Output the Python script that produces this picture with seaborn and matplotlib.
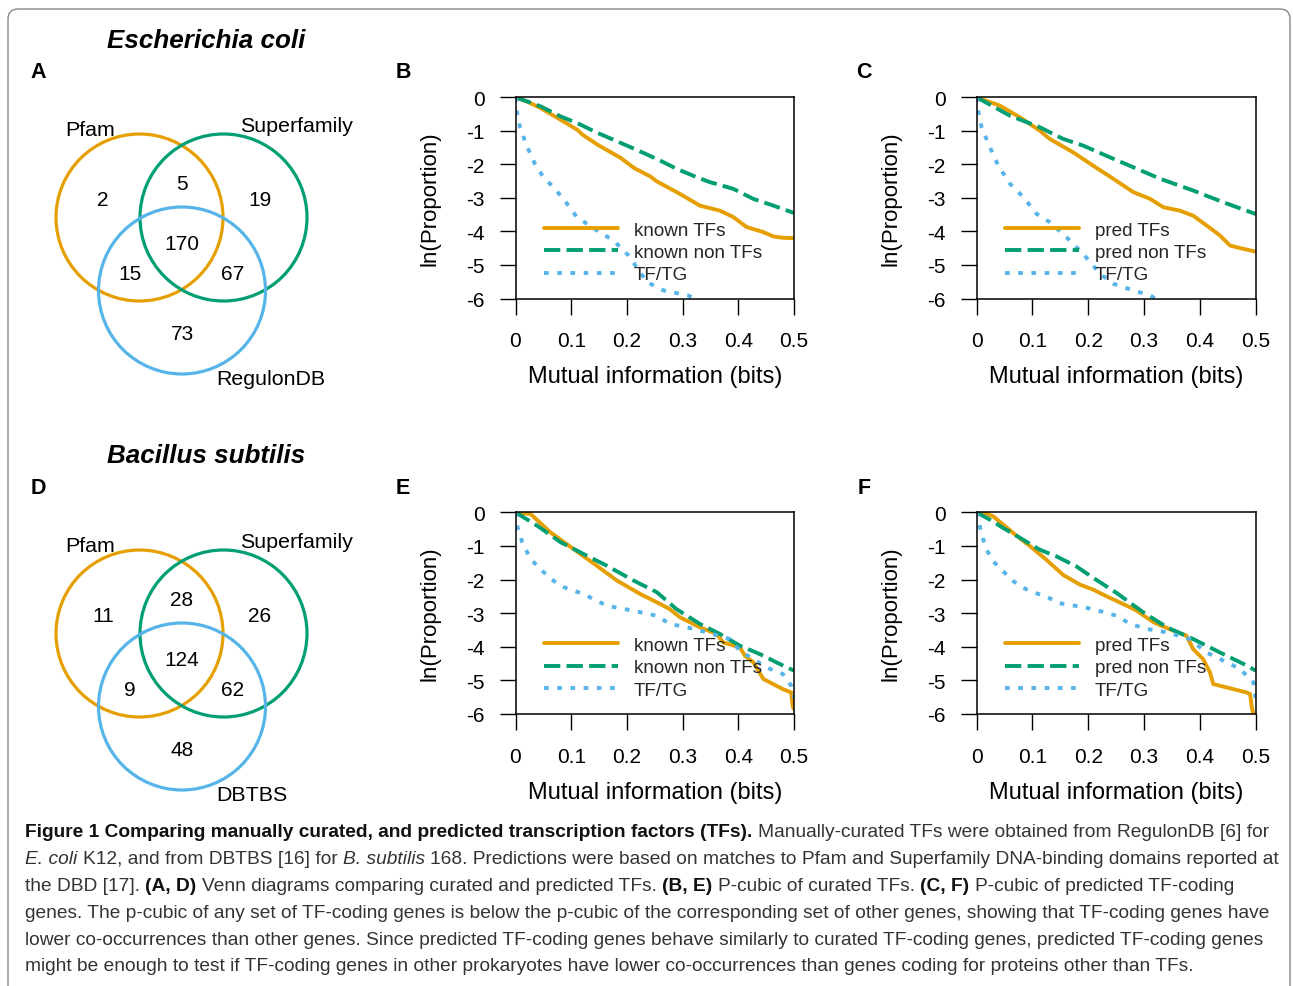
import matplotlib
matplotlib.use("Agg")
import numpy as np
import pandas as pd
import seaborn as sns
import matplotlib.pyplot as plt
from matplotlib.patches import Circle, FancyBboxPatch
from matplotlib import font_manager

# ---------------- data ----------------
# Venn counts: [set1 only, set1&set2, set2 only, all three, set1&set3, set2&set3, set3 only]
ecoli_counts = [2, 5, 19, 170, 15, 67, 73]
bsub_counts = [11, 28, 26, 124, 9, 62, 48]
ecoli_sets = ["Pfam", "Superfamily", "RegulonDB"]
bsub_sets = ["Pfam", "Superfamily", "DBTBS"]

# Panel B (E. coli, curated)
b_tf_x = [0, 0.02, 0.045, 0.081, 0.111, 0.12, 0.147, 0.189, 0.213, 0.242, 0.254, 0.295, 0.331, 0.367, 0.391, 0.415, 0.445, 0.463, 0.48, 0.5]
b_tf_y = [0, -0.12, -0.32, -0.67, -0.97, -1.11, -1.41, -1.81, -2.11, -2.36, -2.51, -2.88, -3.23, -3.38, -3.57, -3.87, -4.02, -4.15, -4.19, -4.2]
b_non_x = [0, 0.022, 0.045, 0.081, 0.111, 0.147, 0.189, 0.23, 0.26, 0.289, 0.325, 0.349, 0.391, 0.427, 0.463, 0.5]
b_non_y = [0, -0.13, -0.27, -0.57, -0.77, -1.06, -1.36, -1.66, -1.89, -2.13, -2.38, -2.53, -2.73, -3.03, -3.23, -3.45]
b_tg_x = [0, 0.002, 0.008, 0.02, 0.035, 0.05, 0.068, 0.086, 0.11, 0.146, 0.176, 0.203, 0.236, 0.266, 0.31, 0.32]
b_tg_y = [0, -0.4, -0.89, -1.44, -1.99, -2.38, -2.68, -3.03, -3.57, -3.97, -4.27, -4.72, -5.51, -5.76, -5.91, -6.0]

# Panel C (E. coli, predicted)
c_tf_x = [0, 0.042, 0.078, 0.113, 0.131, 0.173, 0.209, 0.245, 0.281, 0.311, 0.335, 0.364, 0.388, 0.412, 0.436, 0.454, 0.478, 0.5]
c_tf_y = [0, -0.25, -0.6, -0.99, -1.24, -1.64, -2.04, -2.43, -2.83, -3.03, -3.28, -3.38, -3.53, -3.82, -4.12, -4.42, -4.52, -4.6]
c_non_x = [0, 0.06, 0.113, 0.155, 0.191, 0.239, 0.287, 0.329, 0.388, 0.442, 0.5]
c_non_y = [0, -0.55, -0.89, -1.24, -1.44, -1.79, -2.13, -2.43, -2.78, -3.13, -3.48]
c_tg_x = [0, 0.003, 0.009, 0.024, 0.039, 0.06, 0.084, 0.108, 0.131, 0.161, 0.191, 0.221, 0.245, 0.281, 0.311, 0.32]
c_tg_y = [0, -0.4, -0.89, -1.49, -2.04, -2.58, -2.98, -3.48, -3.72, -4.17, -4.67, -5.26, -5.56, -5.76, -5.91, -6.0]

# Panel E (B. subtilis, curated)
e_tf_x = [0, 0.027, 0.063, 0.104, 0.146, 0.182, 0.224, 0.26, 0.277, 0.295, 0.331, 0.361, 0.373, 0.403, 0.412, 0.427, 0.445, 0.48, 0.495, 0.498, 0.5]
e_tf_y = [0, -0.05, -0.6, -1.09, -1.59, -2.03, -2.43, -2.73, -2.88, -3.12, -3.42, -3.62, -3.87, -4.02, -4.27, -4.46, -4.96, -5.26, -5.36, -5.8, -5.85]
e_non_x = [0, 0.039, 0.081, 0.122, 0.164, 0.212, 0.254, 0.289, 0.331, 0.367, 0.403, 0.439, 0.474, 0.5]
e_non_y = [0, -0.4, -0.89, -1.24, -1.59, -2.03, -2.38, -2.88, -3.32, -3.62, -3.97, -4.22, -4.51, -4.71]
e_tg_x = [0, 0.003, 0.012, 0.027, 0.045, 0.063, 0.087, 0.122, 0.164, 0.212, 0.254, 0.277, 0.307, 0.343, 0.385, 0.403, 0.427, 0.45, 0.48, 0.495, 0.5]
e_tg_y = [0, -0.4, -0.89, -1.39, -1.69, -1.98, -2.23, -2.43, -2.78, -2.93, -3.08, -3.32, -3.42, -3.57, -3.77, -4.12, -4.37, -4.61, -4.81, -5.16, -5.51]

# Panel F (B. subtilis, predicted)
f_tf_x = [0, 0.012, 0.03, 0.066, 0.096, 0.125, 0.155, 0.185, 0.209, 0.233, 0.263, 0.287, 0.317, 0.352, 0.376, 0.388, 0.406, 0.418, 0.424, 0.448, 0.484, 0.49, 0.493, 0.496]
f_tf_y = [0, 0, -0.12, -0.62, -1.01, -1.41, -1.86, -2.15, -2.3, -2.5, -2.73, -2.93, -3.27, -3.52, -3.67, -4.07, -4.37, -4.76, -5.11, -5.21, -5.36, -5.41, -5.8, -6.0]
f_non_x = [0, 0.024, 0.048, 0.078, 0.113, 0.143, 0.179, 0.209, 0.251, 0.299, 0.341, 0.388, 0.436, 0.478, 0.5]
f_non_y = [0, -0.22, -0.47, -0.76, -1.11, -1.31, -1.61, -1.95, -2.4, -2.98, -3.42, -3.77, -4.17, -4.51, -4.71]
f_tg_x = [0, 0.003, 0.006, 0.012, 0.018, 0.03, 0.048, 0.066, 0.084, 0.105, 0.125, 0.146, 0.167, 0.209, 0.251, 0.275, 0.305, 0.341, 0.382, 0.412, 0.448, 0.472, 0.496, 0.5]
f_tg_y = [0, -0.2, -0.42, -0.81, -1.11, -1.46, -1.76, -2.05, -2.25, -2.4, -2.5, -2.7, -2.75, -2.88, -3.08, -3.32, -3.47, -3.57, -3.77, -4.17, -4.46, -4.66, -5.06, -5.56]

x_ticks = [0, 0.1, 0.2, 0.3, 0.4, 0.5]
x_tick_labels = ["0", "0.1", "0.2", "0.3", "0.4", "0.5"]
y_ticks = [0, -1, -2, -3, -4, -5, -6]
y_tick_labels = ["0", "-1", "-2", "-3", "-4", "-5", "-6"]
curated_labels = ["known TFs", "known non TFs", "TF/TG"]
pred_labels = ["pred TFs", "pred non TFs", "TF/TG"]

ORANGE, GREEN, BLUE = "#E69F00", "#009E73", "#56B4E9"

# ---------------- style ----------------
sns.set_theme(style="ticks")
plt.rcParams["font.family"] = ["Liberation Sans", "DejaVu Sans"]
plt.rcParams["axes.unicode_minus"] = False

W, H = 1293, 987
fig = plt.figure(figsize=(W / 100, H / 100), dpi=100)
bg = fig.add_axes([0, 0, 1, 1])
bg.set_xlim(0, W)
bg.set_ylim(H, 0)
bg.axis("off")


def rect(l, t, r, b):
    return [l / W, 1 - b / H, (r - l) / W, (b - t) / H]


# frame
bg.add_patch(FancyBboxPatch((8, 10), 1282, 1060, boxstyle="round,pad=0,rounding_size=10",
                            fill=False, ec="#888888", lw=1.0, clip_on=False))

# ---------------- curve panels ----------------
panels = [
    ("B", rect(515.5, 98.3, 794, 299.5), curated_labels,
     [(b_tf_x, b_tf_y), (b_non_x, b_non_y), (b_tg_x, b_tg_y)]),
    ("C", rect(976.5, 98.3, 1255.7, 299.5), pred_labels,
     [(c_tf_x, c_tf_y), (c_non_x, c_non_y), (c_tg_x, c_tg_y)]),
    ("E", rect(515.5, 513.3, 794, 715), curated_labels,
     [(e_tf_x, e_tf_y), (e_non_x, e_non_y), (e_tg_x, e_tg_y)]),
    ("F", rect(976.5, 513.3, 1255.7, 715), pred_labels,
     [(f_tf_x, f_tf_y), (f_non_x, f_non_y), (f_tg_x, f_tg_y)]),
]
colors = [ORANGE, GREEN, BLUE]
dash_styles = [None, (4.2, 1.6), (1.2, 2.2)]

for name, r, labels, series in panels:
    ax = fig.add_axes(r)
    for (xs, ys), lab, col, ds in zip(series, labels, colors, dash_styles):
        df = pd.DataFrame({"x": xs, "y": ys})
        sns.lineplot(data=df, x="x", y="y", ax=ax, color=col, lw=2.8, label=lab,
                     sort=False, estimator=None)
        if ds is not None:
            ax.lines[-1].set_dashes(ds)
    ax.set_xlim(0, 0.5)
    ax.set_ylim(-6, 0)
    ax.set_xticks(x_ticks)
    ax.set_xticklabels(x_tick_labels)
    ax.set_yticks(y_ticks)
    ax.set_yticklabels(y_tick_labels)
    for s in ax.spines.values():
        s.set_visible(True)
        s.set_color("black")
        s.set_linewidth(1.1)
    ax.tick_params(axis="both", direction="out", length=11.5, width=1.0, colors="black",
                   labelsize=15, labelcolor="black")
    ax.tick_params(axis="y", pad=10.5)
    ax.tick_params(axis="x", pad=12)
    ax.set_xlabel("Mutual information (bits)", fontsize=17, color="black")
    ax.set_ylabel("ln(Proportion)", fontsize=16, color="black")
    ax.xaxis.set_label_coords(0.5, -0.385)
    ax.xaxis.label.set_verticalalignment("center")
    ax.yaxis.set_label_coords(-0.307, 0.5)
    ax.yaxis.label.set_verticalalignment("center")
    ax.legend(loc="center left", bbox_to_anchor=(0.102, 0.23), frameon=False,
              fontsize=13.6, handlelength=3.9, handletextpad=0.85, labelspacing=0.27,
              borderpad=0, borderaxespad=0)
    ax.set_facecolor("white")

# ---------------- Venn diagrams ----------------
circle_centers = [(139.5, 218.5), (223.5, 218.5), (182, 291.5)]
circle_r = 83.5
region_pos = [(103, 205.5), (182, 190.5), (260, 205.5), (182, 250.5), (130, 280.5), (233, 280.5), (182, 340.5)]
set_label_pos = [(65.7, 136), (240, 132), (216.7, 385)]

for dy, counts, sets in [(0, ecoli_counts, ecoli_sets), (416, bsub_counts, bsub_sets)]:
    for (cx, cy), col in zip(circle_centers, colors):
        bg.add_patch(Circle((cx, cy + dy), circle_r, fill=False, ec=col, lw=2.3))
    for (px, py), n in zip(region_pos, counts):
        bg.text(px, py + dy, str(n), ha="center", va="baseline", fontsize=15, color="black")
    for (px, py), s in zip(set_label_pos, sets):
        bg.text(px, py + dy, s, ha="left", va="baseline", fontsize=15.4, color="black")

# species titles and panel letters
bg.text(107, 48, "Escherichia coli", fontsize=18.7, fontweight="bold", fontstyle="italic",
        ha="left", va="baseline", color="black")
bg.text(107, 463, "Bacillus subtilis", fontsize=18.7, fontweight="bold", fontstyle="italic",
        ha="left", va="baseline", color="black")
for letter, x, y in [("A", 38, 78), ("B", 403, 78), ("C", 864, 78),
                     ("D", 38, 494), ("E", 403, 494), ("F", 864, 494)]:
    bg.text(x, y, letter, fontsize=15.5, fontweight="bold", ha="center", va="baseline", color="black")

# ---------------- caption ----------------
names = {f.name for f in font_manager.fontManager.ttflist}
cap_family = ["Liberation Sans Narrow"] if "Liberation Sans Narrow" in names else ["Liberation Sans"]
cap_family = cap_family + ["DejaVu Sans"]

cap_lines = [
    [("Figure 1 Comparing manually curated, and predicted transcription factors (TFs).", "b"),
     (" Manually-curated TFs were obtained from RegulonDB [6] for", "n")],
    [("E. coli", "i"), (" K12, and from DBTBS [16] for ", "n"), ("B. subtilis", "i"),
     (" 168. Predictions were based on matches to Pfam and Superfamily DNA-binding domains reported at", "n")],
    [("the DBD [17]. ", "n"), ("(A, D)", "b"), (" Venn diagrams comparing curated and predicted TFs. ", "n"),
     ("(B, E)", "b"), (" P-cubic of curated TFs. ", "n"), ("(C, F)", "b"), (" P-cubic of predicted TF-coding", "n")],
    [("genes. The p-cubic of any set of TF-coding genes is below the p-cubic of the corresponding set of other genes, showing that TF-coding genes have", "n")],
    [("lower co-occurrences than other genes. Since predicted TF-coding genes behave similarly to curated TF-coding genes, predicted TF-coding genes", "n")],
    [("might be enough to test if TF-coding genes in other prokaryotes have lower co-occurrences than genes coding for proteins other than TFs.", "n")],
]
cap_baselines = [837, 864, 891, 918, 945, 971]

renderer = fig.canvas.get_renderer()


def style_kw(st, fs):
    kw = dict(fontsize=fs, family=cap_family)
    if st == "b":
        kw.update(fontweight="bold", color="#111111")
    elif st == "i":
        kw.update(fontstyle="italic", color="#333333")
    else:
        kw.update(color="#333333")
    return kw


def seg_width(s, st, fs):
    kw = style_kw(st, fs)
    t1 = bg.text(0, 0, "x" + s + "x", **kw)
    t2 = bg.text(0, 0, "xx", **kw)
    w = t1.get_window_extent(renderer).width - t2.get_window_extent(renderer).width
    t1.remove()
    t2.remove()
    return w


base = 10.0
w4 = sum(seg_width(s, st, base) for s, st in cap_lines[3])
cap_fs = base * (1276 - 25) / w4

for segs, yb in zip(cap_lines, cap_baselines):
    x = 25
    for s, st in segs:
        lead = len(s) - len(s.lstrip(" "))
        core = s.strip(" ")
        if lead:
            x += seg_width(" " * lead, "n", cap_fs)
        bg.text(x, yb, core, ha="left", va="baseline", **style_kw(st, cap_fs))
        x += seg_width(core, st, cap_fs)
        trail = len(s) - len(s.rstrip(" "))
        if trail:
            x += seg_width(" " * trail, "n", cap_fs)

fig.savefig("out.png", dpi=100, facecolor="white")
